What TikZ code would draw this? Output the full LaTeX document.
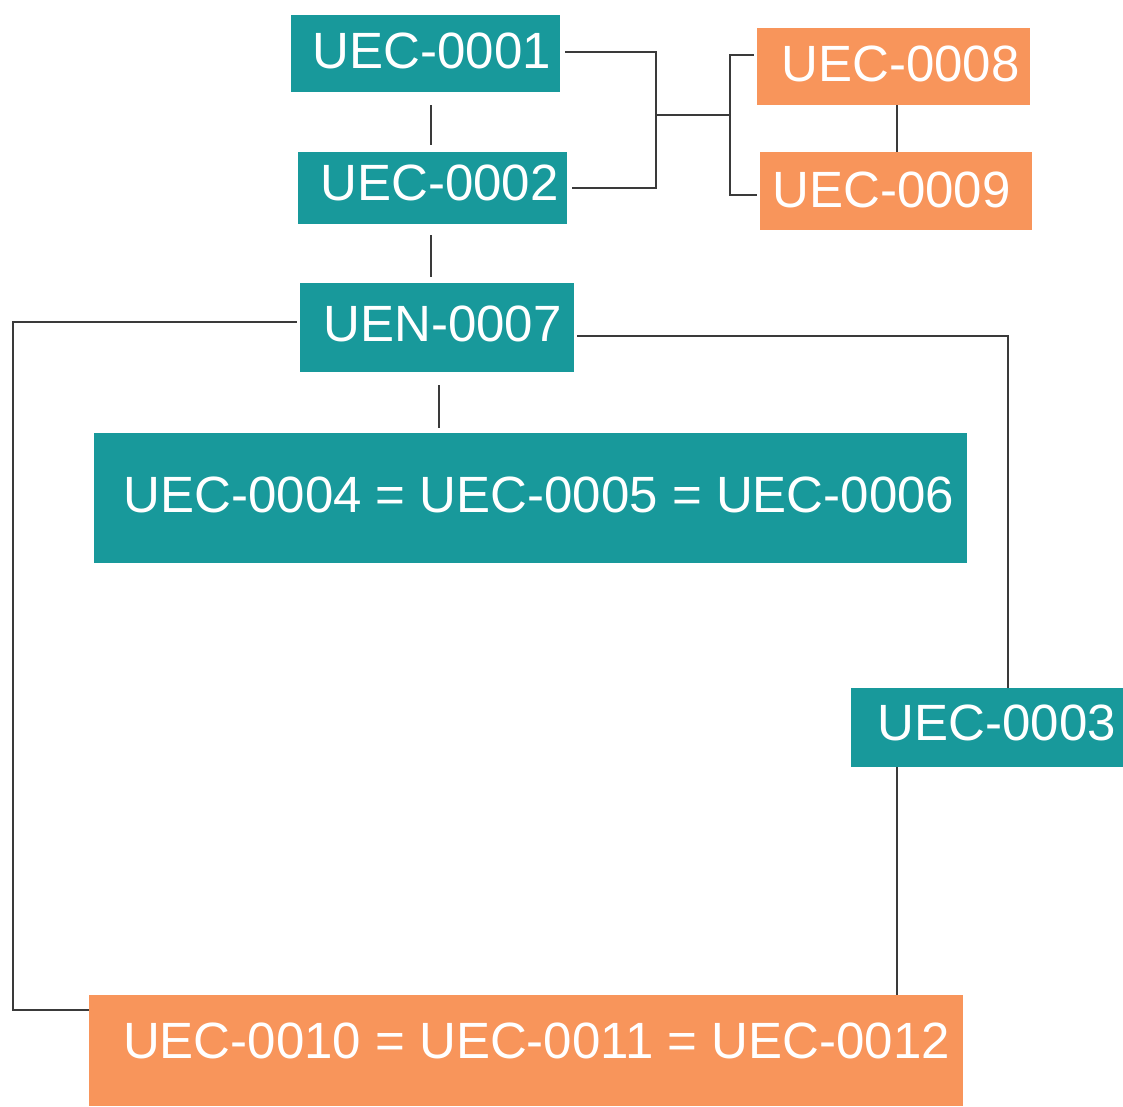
\documentclass[tikz,border=0pt]{standalone}
\usepackage{fontspec}
\setmainfont{Liberation Sans}
\definecolor{teal1}{HTML}{18999B}
\definecolor{orng}{HTML}{F8955B}
\definecolor{lin}{HTML}{3A3A3A}
\begin{document}
\begin{tikzpicture}[x=1pt,y=-1pt,
  box/.style={draw=none,inner sep=0pt,minimum width=#1},
  tealbox/.style={fill=teal1},
  orbox/.style={fill=orng},
  lbl/.style={text=white,font=\fontsize{51}{57}\selectfont,inner sep=0pt},
  conn/.style={draw=lin,line width=2pt}]
\useasboundingbox (0,0) rectangle (1123,1106);
% boxes
\node[box=269pt,tealbox,minimum height=77pt,label={[lbl,xshift=6.5pt,yshift=2.5pt]center:UEC-0001}] (n1) at (425.5,53.5) {};
\node[box=269pt,tealbox,minimum height=72pt,label={[lbl,xshift=7pt,yshift=5.5pt]center:UEC-0002}] (n2) at (432.5,188) {};
\node[box=274pt,tealbox,minimum height=89pt,label={[lbl,xshift=5.5pt,yshift=3.5pt]center:UEN-0007}] (n7) at (437,327.5) {};
\node[box=873pt,tealbox,minimum height=130pt,label={[lbl,xshift=8.5pt,yshift=3pt]center:UEC-0004 = UEC-0005 = UEC-0006}] (n4) at (530.5,498) {};
\node[box=273pt,orbox,minimum height=77pt,label={[lbl,xshift=7pt,yshift=2.5pt]center:UEC-0008}] (n8) at (893.5,66.5) {};
\node[box=272pt,orbox,minimum height=78pt,label={[lbl,xshift=-4.5pt,yshift=1pt]center:UEC-0009}] (n9) at (896,191) {};
\node[box=272pt,tealbox,minimum height=79pt,label={[lbl,xshift=10pt,yshift=4.5pt]center:UEC-0003}] (n3) at (987,727.5) {};
\node[box=874pt,orbox,minimum height=111pt,label={[lbl,xshift=10.5pt,yshift=10pt]center:UEC-0010 = UEC-0011 = UEC-0012}] (n10) at (526,1050.5) {};
% junction coordinates
\coordinate (j1) at (656,115);
\coordinate (j2) at (730,115);
\coordinate (lc) at (13,600);
% connectors
\draw[conn,shorten <=13pt,shorten >=7pt] ([xshift=5.5pt]n1.south) -- ([xshift=-1.5pt]n2.north);
\draw[conn,shorten <=11pt,shorten >=6pt] ([xshift=-1.5pt]n2.south) -- ([xshift=-6pt]n7.north);
\draw[conn,shorten <=13pt,shorten >=5pt] ([xshift=2pt]n7.south) -- ([xshift=-91.5pt]n4.north);
\draw[conn] ([shift={(5pt,1.5pt)}]n1.east) -| (j1) |- ([xshift=5pt]n2.east);
\draw[conn] (j1) -- (j2);
\draw[conn] ([shift={(-3pt,11.5pt)}]n8.west) -| (j2) |- ([shift={(-3pt,-4pt)}]n9.west);
\draw[conn] ([xshift=3.5pt]n8.south) -- ([xshift=1pt]n9.north);
\draw[conn] ([shift={(3pt,-8.5pt)}]n7.east) -| ([xshift=21pt]n3.north);
\draw[conn] ([shift={(-3pt,5.5pt)}]n7.west) -| (lc) |- ([yshift=40.5pt]n10.west);
\draw[conn] ([xshift=-90pt]n3.south) -- ([xshift=371pt]n10.north);
\end{tikzpicture}
\end{document}
